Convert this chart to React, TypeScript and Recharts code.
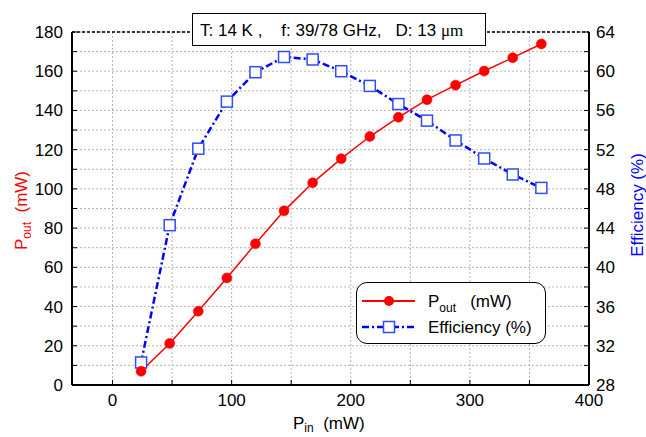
import {
  CartesianGrid,
  ComposedChart,
  Legend,
  Line,
  ReferenceLine,
  XAxis,
  YAxis,
} from "recharts";

const pin = [24, 48, 72, 96, 120, 144, 168, 192, 216, 240, 264, 288, 312, 336, 360];
const pout = [7, 21.2, 37.6, 54.6, 72, 88.8, 103.1, 115.4, 126.7, 136.5, 145.5, 152.9, 160.1, 166.9, 173.9];
const efficiency = [30.3, 44.3, 52.1, 56.9, 59.9, 61.45, 61.2, 60.0, 58.5, 56.65, 54.96, 52.94, 51.1, 49.47, 48.1];

const xTicks = [0, 50, 100, 150, 200, 250, 300, 350, 400];
const leftTicks = [0, 10, 20, 30, 40, 50, 60, 70, 80, 90, 100, 110, 120, 130, 140, 150, 160, 170, 180];
const rightTicks = [28, 30, 32, 34, 36, 38, 40, 42, 44, 46, 48, 50, 52, 54, 56, 58, 60, 62, 64];

const data = pin.map((p, i) => ({ pin: p, pout: pout[i], eff: efficiency[i] }));

const FONT = "'Liberation Sans', Arial, sans-serif";
const RED = "#ff0000";
const BLUE = "#0000ff";

const tickStyle = { fill: "#000", fontSize: 17, fontFamily: FONT };

function SquareDot(props: any) {
  const { cx, cy } = props;
  if (cx == null || cy == null) return null;
  return (
    <rect
      x={cx - 5.5}
      y={cy - 5.5}
      width={11}
      height={11}
      fill="#fff"
      stroke="#2f4cff"
      strokeWidth={1.5}
    />
  );
}

function LegendBox() {
  return (
    <div
      style={{
        width: 190,
        height: 62,
        boxSizing: "border-box",
        border: "1px solid #000",
        borderRadius: 11,
        background: "#fff",
        fontFamily: FONT,
        fontSize: 17,
        position: "relative",
      }}
    >
      <svg width={190} height={62} style={{ position: "absolute", left: -1, top: -1 }}>
        {/* Pout row */}
        <line x1={6} x2={59} y1={19} y2={19} stroke={RED} strokeWidth={2} />
        <circle cx={33} cy={19} r={5} fill={RED} />
        <text x={72} y={25} fill="#000" fontSize={17} fontFamily={FONT} xmlSpace="preserve">
          P
          <tspan fontSize={12} dy={5}>out</tspan>
          <tspan dy={-5}>{"   (mW)"}</tspan>
        </text>
        {/* Efficiency row */}
        <line
          x1={6}
          x2={59}
          y1={45}
          y2={45}
          stroke={BLUE}
          strokeWidth={2.5}
          strokeDasharray="7 3 2 3"
        />
        <rect x={27.5} y={39.5} width={11} height={11} fill="#fff" stroke="#2f4cff" strokeWidth={1.5} />
        <text x={72} y={51} fill="#000" fontSize={17} fontFamily={FONT}>
          Efficiency (%)
        </text>
      </svg>
    </div>
  );
}

export default function App() {
  return (
    <div style={{ position: "absolute", left: 0, top: 0, width: 646, height: 437, background: "#fff" }}>
      <ComposedChart
        width={646}
        height={437}
        data={data}
        margin={{ top: 32, right: 0, left: 0, bottom: 0 }}
      >
        {/* GRID */}
        <CartesianGrid
          yAxisId="left"
          stroke="#b4b4b4"
          strokeDasharray="2 2"
          verticalValues={xTicks}
        />

        <XAxis
          dataKey="pin"
          type="number"
          domain={[-34, 400]}
          ticks={xTicks}
          allowDataOverflow
          height={52}
          tick={tickStyle}
          tickFormatter={(v: number) => (v % 100 === 0 ? String(v) : "")}
          tickSize={-5}
          tickMargin={14}
          tickLine={{ stroke: "#000" }}
          axisLine={{ stroke: "#000", strokeWidth: 2 }}
        />

        <YAxis
          yAxisId="left"
          orientation="left"
          domain={[0, 180]}
          ticks={leftTicks}
          width={72}
          tick={tickStyle}
          tickFormatter={(v: number) => (v % 20 === 0 ? String(v) : "")}
          tickSize={-5}
          tickMargin={14}
          tickLine={{ stroke: "#000" }}
          axisLine={{ stroke: "#000", strokeWidth: 2 }}
        />

        <YAxis
          yAxisId="right"
          orientation="right"
          domain={[28, 64]}
          ticks={rightTicks}
          width={57}
          tick={tickStyle}
          tickFormatter={(v: number) => (v % 4 === 0 ? String(v) : "")}
          tickSize={-5}
          tickMargin={12}
          tickLine={{ stroke: "#000" }}
          axisLine={{ stroke: "#000", strokeWidth: 2 }}
        />

        {/* dashed top frame */}
        <ReferenceLine
          yAxisId="left"
          y={180}
          stroke="#000"
          strokeWidth={1.5}
          strokeDasharray="3 2"
        />

        <Line
          yAxisId="right"
          dataKey="eff"
          name="Efficiency (%)"
          type="linear"
          stroke={BLUE}
          strokeWidth={2.5}
          strokeDasharray="7 3 2 3"
          dot={<SquareDot />}
          activeDot={false}
          isAnimationActive={false}
        />

        <Line
          yAxisId="left"
          dataKey="pout"
          name="Pout (mW)"
          type="linear"
          stroke={RED}
          strokeWidth={1.5}
          dot={{ r: 5, fill: RED, stroke: RED, strokeWidth: 0.5 }}
          activeDot={false}
          isAnimationActive={false}
        />

        <Legend
          layout="horizontal"
          verticalAlign="middle"
          align="center"
          content={() => <LegendBox />}
          wrapperStyle={{ position: "absolute", left: 356, top: 282, width: 190, height: 62 }}
        />
      </ComposedChart>

      {/* title box and axis titles */}
      <svg
        width={646}
        height={437}
        style={{ position: "absolute", left: 0, top: 0, pointerEvents: "none" }}
      >
        <rect x={192.5} y={13.5} width={293} height={32} fill="#fff" stroke="#000" strokeWidth={1} />
        <text x={200} y={36} fontSize={17} fontFamily={FONT} fill="#000" xmlSpace="preserve">
          {"T: 14 K ,    f: 39/78 GHz,   D: 13 "}
          <tspan fontFamily="'Liberation Serif', 'Times New Roman', serif">μm</tspan>
        </text>

        <text x={293} y={429} fontSize={17} fontFamily={FONT} fill="#000" xmlSpace="preserve">
          P<tspan fontSize={12} dy={3}>in</tspan>
          <tspan dy={-3}>{"  (mW)"}</tspan>
        </text>

        <text
          x={0}
          y={0}
          transform="translate(27, 250) rotate(-90)"
          fontSize={17}
          fontFamily={FONT}
          fill={RED}
          xmlSpace="preserve"
        >
          P<tspan fontSize={12} dy={4}>out</tspan>
          <tspan dy={-4}>{"  (mW)"}</tspan>
        </text>

        <text
          x={0}
          y={0}
          transform="translate(643, 205) rotate(-90)"
          fontSize={17}
          fontFamily={FONT}
          fill={BLUE}
          textAnchor="middle"
        >
          Efficiency (%)
        </text>
      </svg>
    </div>
  );
}
